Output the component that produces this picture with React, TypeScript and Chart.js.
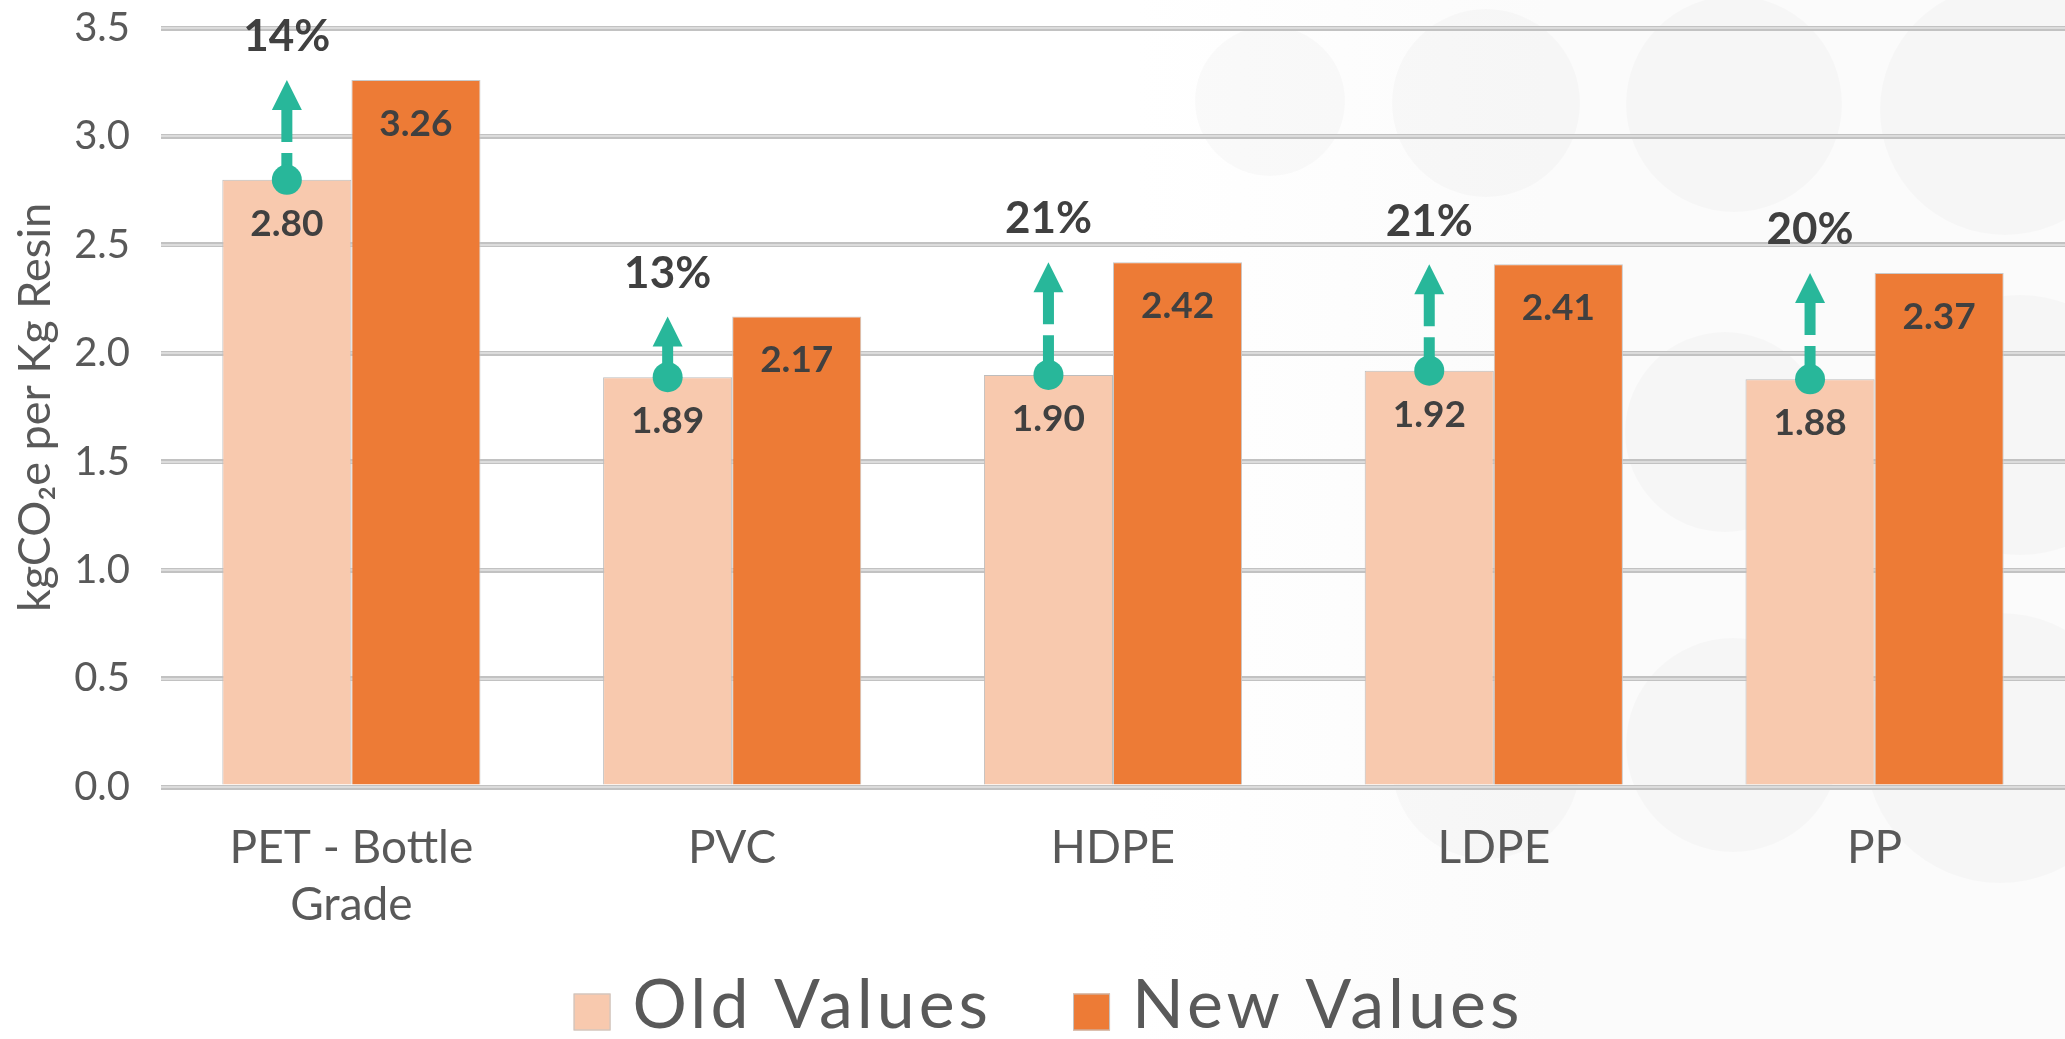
import React, { useEffect, useRef } from 'react';
import { Chart, registerables } from 'chart.js';

Chart.register(...registerables);

// ---- data ----
const categories: (string | string[])[] = [['PET - Bottle', 'Grade'], 'PVC', 'HDPE', 'LDPE', 'PP'];
const oldValues = [2.8, 1.89, 1.9, 1.92, 1.88];
const newValues = [3.26, 2.17, 2.42, 2.41, 2.37];
const changeLabels = ['14%', '13%', '21%', '21%', '20%'];
const seriesNames = ['Old Values', 'New Values'];
const yTicks = [0, 0.5, 1, 1.5, 2, 2.5, 3, 3.5];
const yAxisTitle = 'kgCO\u2082e per Kg Resin';

// ---- styles ----
const FONT = 'Lato, "Open Sans", "Noto Sans", sans-serif';
const OLD_COLOR = '#F8C9AE';
const NEW_COLOR = '#ED7B36';
const TEAL = '#28B79A';
const LABEL_DARK = '#404040';
const AXIS_GREY = '#595959';

// decorative faint background circles: [cx, cy, r] in canvas pixels
const bgCircles: [number, number, number][] = [
  [1270, 101, 75],
  [1486, 103, 94],
  [1734, 104, 108],
  [2005, 110, 125],
  [1725, 432, 100],
  [2020, 425, 130],
  [1733, 745, 107],
  [2000, 748, 135],
  [1486, 765, 94],
];

const backgroundPlugin = {
  id: 'bgDecor',
  beforeDraw(chart: any) {
    const { ctx, width, height } = chart;
    ctx.save();
    ctx.fillStyle = '#ffffff';
    ctx.fillRect(0, 0, width, height);
    const g = ctx.createLinearGradient(width * 0.55, 0, width * 0.75, 0);
    g.addColorStop(0, 'rgba(251,251,251,0)');
    g.addColorStop(1, 'rgba(251,251,251,1)');
    ctx.fillStyle = g;
    ctx.fillRect(0, 0, width, height);
    ctx.fillStyle = 'rgba(0,0,0,0.018)';
    bgCircles.forEach(([cx, cy, r]) => {
      ctx.beginPath();
      ctx.arc(cx, cy, r, 0, Math.PI * 2);
      ctx.fill();
    });
    ctx.restore();
  },
  beforeDatasetsDraw(chart: any) {
    // lighter core of the double-edged grid lines
    const { ctx, chartArea } = chart;
    const yScale = chart.scales.y;
    ctx.save();
    ctx.strokeStyle = '#dcdcdc';
    ctx.lineWidth = 2;
    yScale.ticks.forEach((t: any) => {
      const y = Math.round(yScale.getPixelForValue(t.value));
      ctx.beginPath();
      ctx.moveTo(chartArea.left, y);
      ctx.lineTo(chartArea.right, y);
      ctx.stroke();
    });
    ctx.restore();
  },
};

const annotationPlugin = {
  id: 'barAnnotations',
  afterDatasetsDraw(chart: any) {
    const { ctx } = chart;
    const yScale = chart.scales.y;
    const metas = [chart.getDatasetMeta(0), chart.getDatasetMeta(1)];
    ctx.save();
    ctx.textAlign = 'center';
    ctx.textBaseline = 'middle';
    // value labels inside bars
    ctx.font = `bold 37px ${FONT}`;
    ctx.fillStyle = LABEL_DARK;
    metas.forEach((meta, d) => {
      meta.data.forEach((bar: any, i: number) => {
        const v = chart.data.datasets[d].data[i] as number;
        ctx.fillText(v.toFixed(2), bar.x, bar.y + 44);
      });
    });
    // arrows from old value to new value
    metas[0].data.forEach((bar: any, i: number) => {
      const x = bar.x;
      const y0 = bar.y;
      const y1 = yScale.getPixelForValue(newValues[i]);
      const headH = 30;
      const headW = 15;
      ctx.strokeStyle = TEAL;
      ctx.lineWidth = 11;
      ctx.lineCap = 'butt';
      ctx.setLineDash([33, 11]);
      ctx.beginPath();
      ctx.moveTo(x, y1 + headH - 1);
      ctx.lineTo(x, y0);
      ctx.stroke();
      ctx.setLineDash([]);
      ctx.fillStyle = TEAL;
      ctx.beginPath();
      ctx.moveTo(x, y1);
      ctx.lineTo(x + headW, y1 + headH);
      ctx.lineTo(x - headW, y1 + headH);
      ctx.closePath();
      ctx.fill();
      ctx.beginPath();
      ctx.arc(x, y0, 15, 0, Math.PI * 2);
      ctx.fill();
      ctx.fillStyle = LABEL_DARK;
      ctx.font = `bold 44px ${FONT}`;
      ctx.fillText(changeLabels[i], x, y1 - 43);
    });
    ctx.restore();
  },
};

const legendPlugin = {
  id: 'customLegend',
  afterDraw(chart: any) {
    const { ctx, width, height } = chart;
    const fontSize = 68;
    const box = 37;
    const gap = 22;
    const spacing = 81;
    ctx.save();
    ctx.font = `${fontSize}px ${FONT}`;
    (ctx as any).letterSpacing = '4px';
    const items = chart.data.datasets.map((ds: any) => ({
      text: ds.label as string,
      color: ds.backgroundColor as string,
      w: ctx.measureText(ds.label).width,
    }));
    const total =
      items.reduce((s: number, it: any) => s + box + gap + it.w, 0) + spacing * (items.length - 1);
    let x = width / 2 + 16 - total / 2;
    const cy = height - 27;
    items.forEach((it: any) => {
      ctx.fillStyle = it.color;
      ctx.fillRect(x, cy - box / 2, box, box);
      ctx.strokeStyle = '#c4c4c4';
      ctx.lineWidth = 1;
      ctx.strokeRect(x + 0.5, cy - box / 2 + 0.5, box - 1, box - 1);
      x += box + gap;
      ctx.fillStyle = AXIS_GREY;
      ctx.textAlign = 'left';
      ctx.textBaseline = 'middle';
      ctx.fillText(it.text, x, cy - 6);
      x += it.w + spacing;
    });
    ctx.restore();
  },
};

export default function App() {
  const canvasRef = useRef<HTMLCanvasElement | null>(null);

  useEffect(() => {
    if (!canvasRef.current) return;
    const chart = new Chart(canvasRef.current, {
      type: 'bar',
      data: {
        labels: categories as any,
        datasets: [
          {
            label: seriesNames[0],
            data: oldValues,
            backgroundColor: OLD_COLOR,
            borderColor: '#bdbdbd',
            borderWidth: 1,
            categoryPercentage: 0.678,
            barPercentage: 1,
          },
          {
            label: seriesNames[1],
            data: newValues,
            backgroundColor: NEW_COLOR,
            borderColor: '#c9c9c9',
            borderWidth: 1,
            categoryPercentage: 0.678,
            barPercentage: 1,
          },
        ],
      },
      options: {
        responsive: true,
        maintainAspectRatio: false,
        animation: false,
        layout: { padding: { top: 28, left: 0, right: 0, bottom: 0 } },
        plugins: {
          legend: { display: false },
          tooltip: { enabled: false },
        },
        scales: {
          x: {
            grid: { display: false, drawTicks: false },
            border: { display: false },
            ticks: {
              color: AXIS_GREY,
              font: { family: FONT, size: 46, lineHeight: 1.24 },
              padding: 33,
              maxRotation: 0,
              autoSkip: false,
            },
            afterFit: (s: any) => {
              s.height = 252;
              s.paddingLeft = 0;
              s.paddingRight = 0;
            },
          },
          y: {
            min: 0,
            max: 3.5,
            afterBuildTicks: (s: any) => {
              s.ticks = yTicks.map((v) => ({ value: v }));
            },
            ticks: {
              color: AXIS_GREY,
              font: { family: FONT, size: 40 },
              padding: 31,
              callback: (v: any) => Number(v).toFixed(1),
            },
            grid: { color: '#c2c2c2', lineWidth: 5, drawTicks: false },
            border: { display: false },
            title: {
              display: true,
              text: yAxisTitle,
              color: AXIS_GREY,
              font: { family: FONT, size: 45 },
              padding: { top: 8, bottom: 0 },
            },
            afterFit: (s: any) => {
              s.width = 161;
              s.paddingTop = 0;
              s.paddingBottom = 0;
            },
          },
        },
      } as any,
      plugins: [backgroundPlugin, annotationPlugin, legendPlugin],
    });
    return () => chart.destroy();
  }, []);

  return (
    <div style={{ position: 'absolute', left: 0, top: 0, width: 2065, height: 1039 }}>
      <canvas ref={canvasRef} />
    </div>
  );
}
